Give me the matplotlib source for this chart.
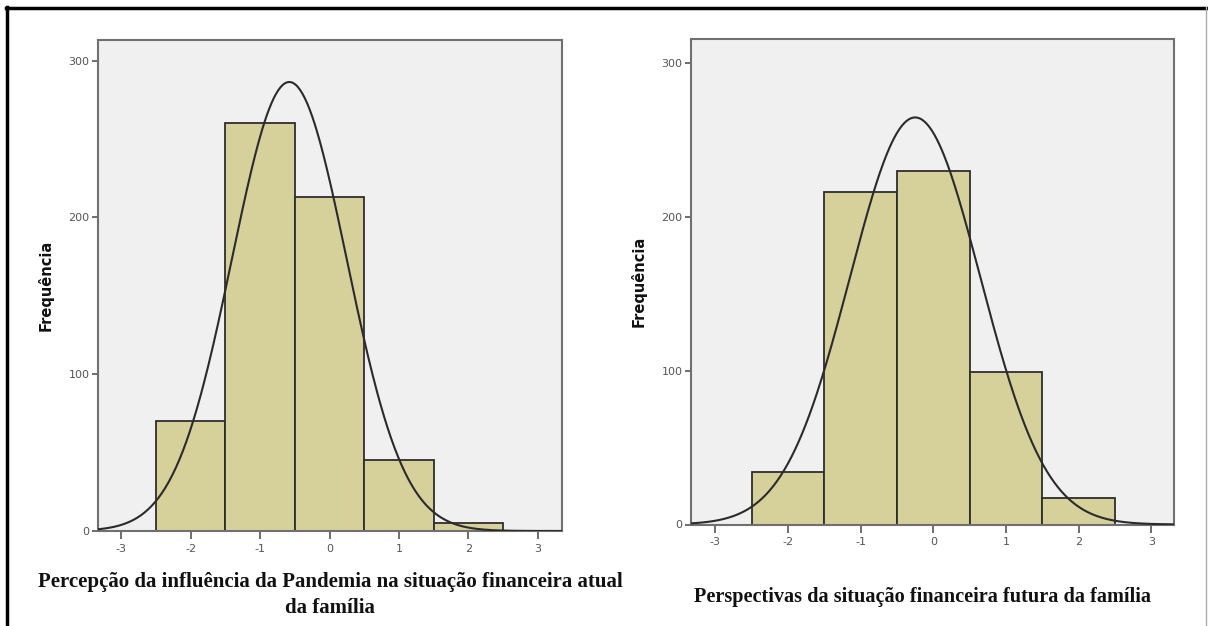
import numpy as np
import matplotlib.pyplot as plt
from matplotlib.lines import Line2D

plt.rcParams["axes.unicode_minus"] = False

# Histogram bins (centres) and counts
bin_centres = [-2, -1, 0, 1, 2]
counts_atual = [70, 260, 213, 45, 5]
counts_futura = [34, 216, 230, 99, 17]

# normal curve parameters (mean, sd) as drawn by SPSS
mean_atual, sd_atual = -0.58, 0.826
mean_futura, sd_futura = -0.25, 0.898

x_ticks = [-3, -2, -1, 0, 1, 2, 3]
y_ticks = [0, 100, 200, 300]

label_atual = "Percepção da influência da Pandemia na situação financeira atual\nda família"
label_futura = "Perspectivas da situação financeira futura da família"

bar_color = "#d6d09b"
bg_color = "#f0f0f0"
frame_color = "#707070"

fig = plt.figure(figsize=(12.08, 6.26), dpi=100)
W, H = 1208, 626


def px_axes(x0, y0, x1, y1):
    # pixel box (top-left origin) -> figure fraction
    return fig.add_axes([x0 / W, 1 - y1 / H, (x1 - x0) / W, (y1 - y0) / H])


def draw_hist(ax, counts, mu, sd, xlim, ylim):
    ax.set_facecolor(bg_color)
    ax.bar(bin_centres, counts, width=1.0, color=bar_color,
           edgecolor="#2e2e2e", linewidth=1.3, zorder=2)
    n = sum(counts)
    xs = np.linspace(xlim[0], xlim[1], 400)
    ys = n * np.exp(-0.5 * ((xs - mu) / sd) ** 2) / (sd * np.sqrt(2 * np.pi))
    ax.plot(xs, ys, color="#2b2b2b", linewidth=1.5, zorder=3)
    ax.set_xlim(*xlim)
    ax.set_ylim(*ylim)
    ax.set_xticks(x_ticks)
    ax.set_yticks(y_ticks)
    for s in ax.spines.values():
        s.set_color(frame_color)
        s.set_linewidth(1.5)
    ax.tick_params(axis="both", colors="#555555", labelsize=8, length=4,
                   width=1.2, pad=2)
    ax.tick_params(axis="x", length=6, pad=3)
    ax.set_ylabel("Frequência", fontsize=10.5, fontweight="bold",
                  color="#111111", labelpad=11)


ax1 = px_axes(98, 40, 562, 531)
draw_hist(ax1, counts_atual, mean_atual, sd_atual, (-3.337, 3.35), (0, 313.2))
ax2 = px_axes(691, 39, 1174, 524.5)
draw_hist(ax2, counts_futura, mean_futura, sd_futura, (-3.333, 3.31), (0, 315.8))

# x labels in bold serif
fig.text(330 / W, 1 - 595 / H, label_atual, ha="center", va="center",
         fontsize=15, fontweight="bold", family="Liberation Serif",
         color="#111111", linespacing=1.45)
fig.text(923 / W, 1 - 597 / H, label_futura, ha="center", va="center",
         fontsize=14.6, fontweight="bold", family="Liberation Serif",
         color="#111111")

# outer frame of the figure box
fig.add_artist(Line2D([6 / W, 1207 / W], [1 - 7.5 / H, 1 - 7.5 / H],
                      color="black", linewidth=2.5))
fig.add_artist(Line2D([7 / W, 7 / W], [1 - 7 / H, 0], color="black", linewidth=2.5))
fig.add_artist(Line2D([1206 / W, 1206 / W], [1 - 7 / H, 0], color="#aaaaaa", linewidth=1))

fig.savefig("out.png", dpi=100)
